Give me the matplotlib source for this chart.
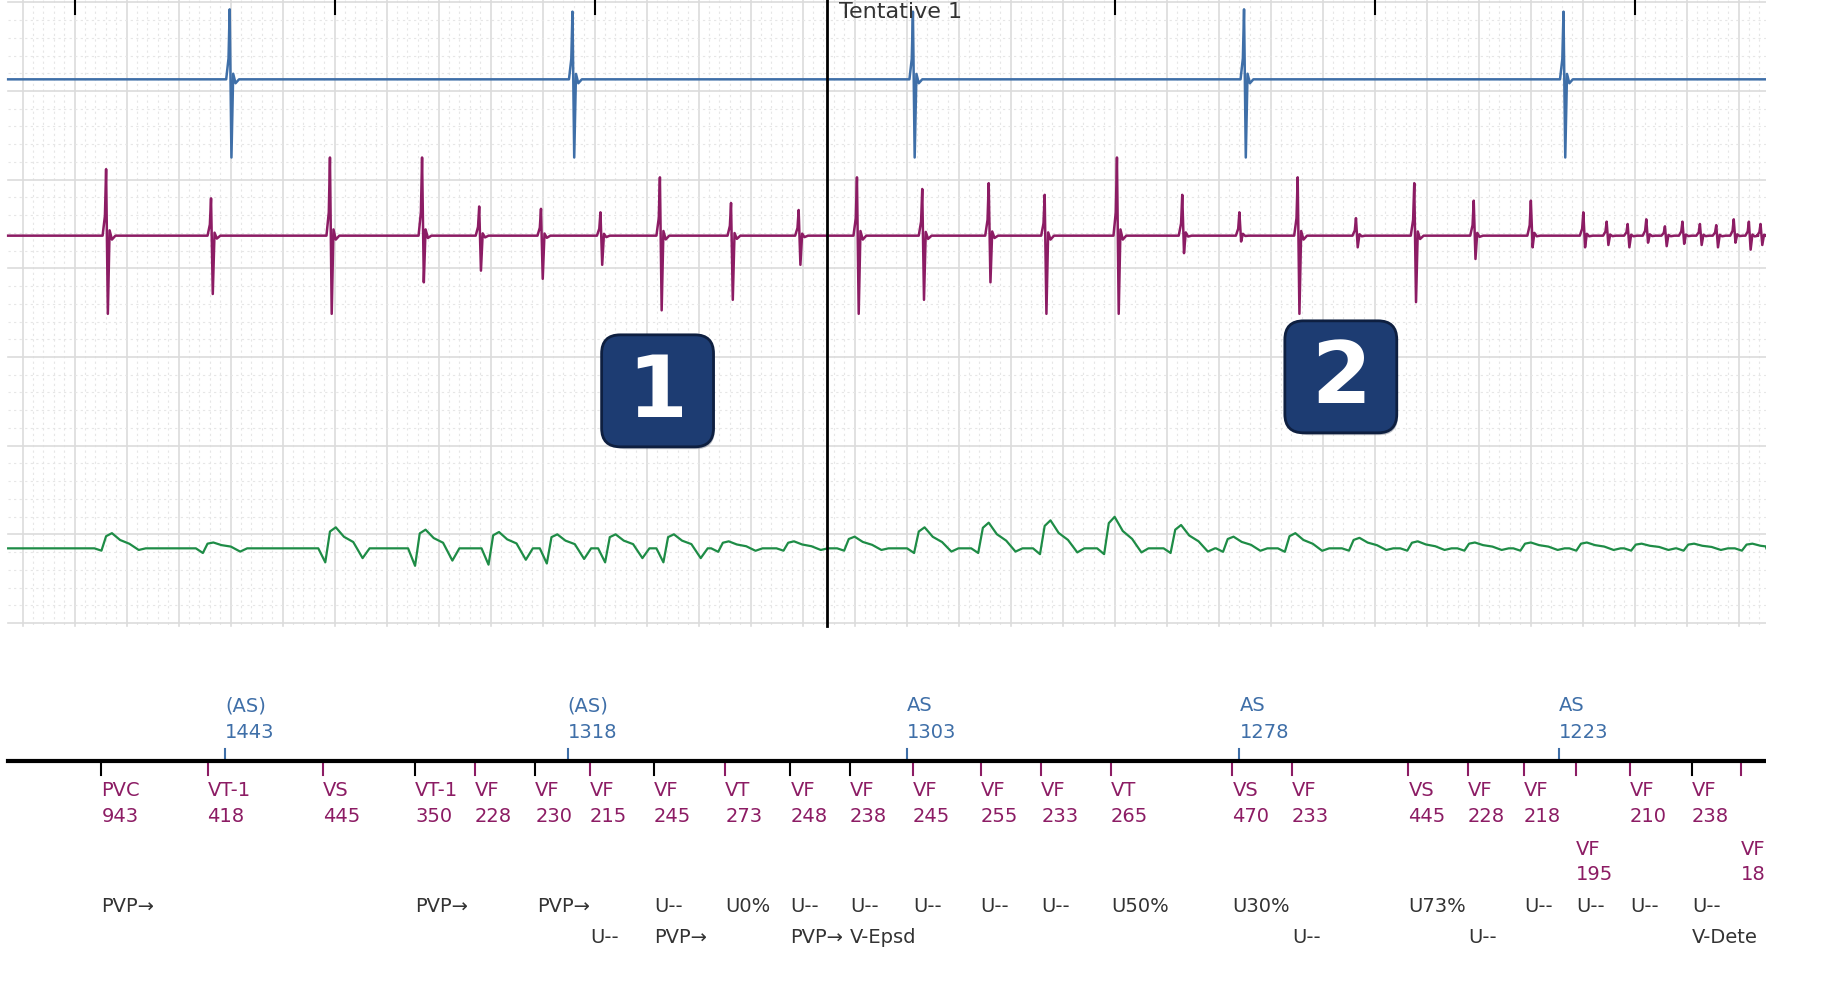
import numpy as np
import matplotlib.pyplot as plt
from matplotlib.patches import FancyBboxPatch

plt.rcParams['font.family'] = ['Liberation Sans Narrow', 'DejaVu Sans']

# chart works in the reference's own pixel frame (y down)
W, H = 1567, 864
RIGHT = 1515

# --- traces: beat positions and spike sizes ---
blue_beats = [197, 491, 783, 1067, 1341]
blue_up = [60, 58, 58, 60, 58]
blue_down = [67, 67, 67, 67, 67]

maroon_beats = [91, 181, 283, 362, 411, 464, 515, 566, 627, 685, 735, 791, 848, 896, 958,
                1014, 1063, 1113, 1163, 1213, 1264, 1313, 1358, 1378, 1396, 1412, 1428,
                1443, 1458, 1472, 1487, 1500, 1510]
maroon_up = [57, 32, 67, 67, 25, 23, 20, 50, 28, 22, 50, 40, 45, 35, 67,
             35, 20, 50, 15, 45, 30, 30, 20, 12, 10, 14, 8, 12, 10, 9, 14, 12, 10]
maroon_down = [67, 50, 67, 40, 30, 37, 25, 64, 55, 25, 67, 55, 40, 67, 67,
               15, 5, 67, 10, 57, 20, 10, 10, 8, 10, 6, 9, 7, 8, 10, 6, 12, 8]

green_beats = [93, 180, 285, 362, 425, 475, 525, 575, 622, 678, 730, 790, 845, 898, 953,
               1010, 1055, 1108, 1163, 1213, 1262, 1310, 1358, 1405, 1450, 1500]
green_amp = [13, 5, 18, 16, 14, 12, 12, 12, 6, 6, 10, 18, 22, 24, 27,
             20, 10, 13, 9, 6, 5, 5, 5, 4, 4, 4]
green_dip = [2, 4, 12, 15, 14, 13, 12, 12, 3, 2, 2, 4, 4, 5, 5,
             4, 3, 3, 2, 2, 2, 2, 2, 2, 2, 2]

# --- event markers ---
as_x = [193, 487, 778, 1063, 1337]
as_lab = ['(AS)', '(AS)', 'AS', 'AS', 'AS']
as_val = ['1443', '1318', '1303', '1278', '1223']

ev_x = [87, 178, 277, 356, 407, 459, 506, 561, 622, 678, 729, 783, 841, 893, 953,
        1057, 1108, 1208, 1259, 1307, 1352, 1398, 1451, 1493]
ev_lab = ['PVC', 'VT-1', 'VS', 'VT-1', 'VF', 'VF', 'VF', 'VF', 'VT', 'VF', 'VF', 'VF', 'VF', 'VF', 'VT',
          'VS', 'VF', 'VS', 'VF', 'VF', 'VF', 'VF', 'VF', 'VF']
ev_val = ['943', '418', '445', '350', '228', '230', '215', '245', '273', '248', '238', '245', '255', '233', '265',
          '470', '233', '445', '228', '218', '195', '210', '238', '188']
ev_low = [0] * 20 + [1, 0, 0, 1]
ev_black = [87, 356, 459, 561, 678, 729, 1451]

row1_x = [87, 356, 461, 561, 622, 678, 729, 783, 841, 893, 953, 1057, 1208, 1307, 1352, 1398, 1451]
row1_lab = ['PVP→', 'PVP→', 'PVP→', 'U--', 'U0%', 'U--', 'U--', 'U--', 'U--', 'U--', 'U50%',
            'U30%', 'U73%', 'U--', 'U--', 'U--', 'U--']
row2_x = [506, 561, 678, 729, 1108, 1259, 1451]
row2_lab = ['U--', 'PVP→', 'PVP→', 'V-Epsd', 'U--', 'U--', 'V-Dete']

BLUE = '#3f6fa8'
MAROON = '#8c1c64'
GREEN = '#1e8c46'
FS = 14


def spikes(beats, up, down, base, x0, x1, w=1.0):
    xs, ys = [x0], [base]
    for b, u, d in zip(beats, up, down):
        xs += [b - 3 * w, b - 1 * w, b, b + 1.5 * w, b + 3 * w, b + 5 * w, b + 8 * w]
        ys += [base, base - u * 0.3, base - u, base + d, base - u * 0.08, base + d * 0.05, base]
    xs.append(x1)
    ys.append(base)
    return xs, ys


def waves(beats, amp, dip, base, x0, x1):
    xs, ys = [x0], [base]
    for b, a, d in zip(beats, amp, dip):
        xs += [b - 12, b - 6, b - 2, b + 3, b + 10, b + 18, b + 26, b + 32]
        ys += [base, base + d, base - a * 0.8, base - a, base - a * 0.55, base - a * 0.3, base + d * 0.7, base]
    xs.append(x1)
    ys.append(base)
    return xs, ys


fig = plt.figure(figsize=(18.27, 10.08), dpi=100)
ax = fig.add_axes([0, 0, RIGHT / W, 1])
ax.set_xlim(0, RIGHT)
ax.set_ylim(H, 0)
ax.axis('off')

# grid
top, bot, left = 0, 537, 7
for k in range(-1, 36):
    x = 64 + k * 44.6
    if left <= x <= RIGHT:
        ax.plot([x, x], [top, bot], color='#dcdcdc', lw=1.2, zorder=1)
    for j in range(1, 5):
        xm = x + j * 44.6 / 5
        if left <= xm <= RIGHT:
            ax.plot([xm, xm], [top, bot], color='#e6e6e6', lw=0.8, ls=(0, (2, 3)), zorder=1)
for k in range(0, 8):
    y = 2 + k * 76
    if y <= bot:
        ax.plot([left, RIGHT], [y, y], color='#dcdcdc', lw=1.2, zorder=1)
    for j in range(1, 5):
        ym = y + j * 76 / 5
        if ym <= bot:
            ax.plot([left, RIGHT], [ym, ym], color='#e6e6e6', lw=0.8, ls=(0, (2, 3)), zorder=1)

# top ticks (the one under the title is hidden)
for k in [0, 1, 2, 4, 5, 6]:
    x = 64 + k * 223
    ax.plot([x, x], [0, 12], color='black', lw=1.5, zorder=3)

# traces
bx, by = spikes(blue_beats, blue_up, blue_down, 68, left, RIGHT)
ax.plot(bx, by, color=BLUE, lw=1.8, zorder=4)
mx, my = spikes(maroon_beats, maroon_up, maroon_down, 202, left, RIGHT)
ax.plot(mx, my, color=MAROON, lw=1.8, zorder=4)
gx, gy = waves(green_beats, green_amp, green_dip, 470, left, RIGHT)
ax.plot(gx, gy, color=GREEN, lw=1.6, zorder=4)

# cursor
ax.plot([709, 709], [0, bot], color='black', lw=2, zorder=5)
ax.text(720, 10, 'Tentative 1', fontsize=16, color='#333333', va='center', ha='left', zorder=5)

# badges
for cx, cy, lab in [(564, 335, '1'), (1150, 323, '2')]:
    sh = FancyBboxPatch((cx - 46 + 3, cy - 46 + 4), 92, 92, boxstyle='round,pad=0,rounding_size=16',
                        fc='#7a8090', ec='none', alpha=0.5, zorder=6)
    ax.add_patch(sh)
    b = FancyBboxPatch((cx - 48, cy - 48), 96, 96, boxstyle='round,pad=0,rounding_size=16',
                       fc='#1d3c72', ec='#0e1f40', lw=2, zorder=7)
    ax.add_patch(b)
    ax.text(cx, cy + 2, lab, fontsize=62, fontweight='bold', color='white', family='DejaVu Sans',
            ha='center', va='center', zorder=8)

# marker axis
ax.plot([left, RIGHT], [652, 652], color='black', lw=3, zorder=3)
for x, l, v in zip(as_x, as_lab, as_val):
    ax.plot([x, x], [642, 652], color=BLUE, lw=1.5)
    ax.text(x, 605, l, color=BLUE, fontsize=FS, ha='left', va='center')
    ax.text(x, 628, v, color=BLUE, fontsize=FS, ha='left', va='center')
for x, l, v, low in zip(ev_x, ev_lab, ev_val, ev_low):
    c = 'black' if x in ev_black else MAROON
    ax.plot([x, x], [652, 664], color=c, lw=1.5)
    y0 = 728 if low else 678
    ax.text(x, y0, l, color=MAROON, fontsize=FS, ha='left', va='center', clip_on=True)
    ax.text(x, y0 + 22, v, color=MAROON, fontsize=FS, ha='left', va='center', clip_on=True)
for x, l in zip(row1_x, row1_lab):
    ax.text(x, 777, l, color='#333333', fontsize=FS, ha='left', va='center', clip_on=True)
for x, l in zip(row2_x, row2_lab):
    ax.text(x, 804, l, color='#333333', fontsize=FS, ha='left', va='center', clip_on=True)

fig.savefig('out.png', dpi=100, facecolor='white')
